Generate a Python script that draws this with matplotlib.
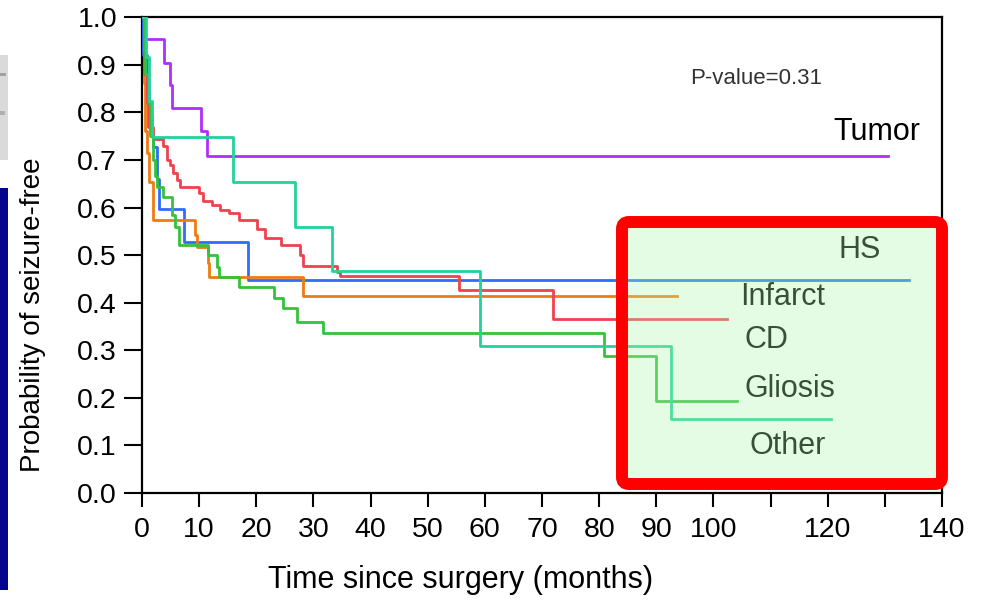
import matplotlib
matplotlib.use("Agg")
import matplotlib.pyplot as plt
from matplotlib.patches import Rectangle, FancyBboxPatch
from matplotlib.transforms import IdentityTransform

plt.rcParams['font.family'] = ['Liberation Sans', 'DejaVu Sans']

# ---------------- data ----------------
tumor_t = [0, 0.5, 3.9, 4.9, 5.3, 10.4, 11.4, 130.6]
tumor_s = [1.0, 0.954, 0.904, 0.858, 0.810, 0.760, 0.709, 0.709]

hs_t = [0, 0.2, 0.9, 1.2, 1.7, 1.9, 2.7, 3.0, 7.4, 18.6, 134.3]
hs_s = [1.0, 0.92, 0.84, 0.79, 0.75, 0.728, 0.66, 0.598, 0.527, 0.448, 0.448]

infarct_t = [0, 0.3, 0.6, 0.9, 1.2, 2.0, 9.2, 9.7, 11.5, 11.8, 28.2, 93.7]
infarct_s = [1.0, 0.862, 0.76, 0.715, 0.654, 0.574, 0.542, 0.518, 0.483, 0.455, 0.415, 0.415]

cd_t = [0, 0.4, 0.8, 1.1, 1.9, 3.7, 4.3, 4.9, 5.5, 6.1, 6.65, 9.9, 10.7, 12.2, 13.6,
        15.3, 16.9, 20.1, 21.5, 24.4, 27.7, 28.1, 34.1, 34.7, 55.5, 71.9, 102.3]
cd_s = [1.0, 0.88, 0.82, 0.77, 0.744, 0.729, 0.700, 0.690, 0.672, 0.658, 0.644, 0.631, 0.614,
        0.605, 0.595, 0.588, 0.574, 0.554, 0.537, 0.521, 0.500, 0.477, 0.465, 0.456, 0.427,
        0.366, 0.366]

gliosis_t = [0, 0.3, 0.6, 1.0, 1.4, 1.9, 2.3, 2.7, 3.7, 5.2, 5.8, 6.4, 11.6, 13.1, 13.5,
             16.9, 23.1, 24.7, 27.1, 31.7, 80.9, 90.0, 104.2]
gliosis_s = [1.0, 0.93, 0.88, 0.82, 0.75, 0.70, 0.667, 0.644, 0.623, 0.584, 0.560, 0.521,
             0.500, 0.476, 0.455, 0.432, 0.409, 0.388, 0.360, 0.337, 0.288, 0.193, 0.193]

other_t = [0, 0.75, 1.3, 1.75, 16.0, 26.7, 33.3, 59.2, 92.6, 120.6]
other_s = [1.0, 0.917, 0.825, 0.748, 0.653, 0.559, 0.467, 0.310, 0.155, 0.155]

groups = ["Tumor", "HS", "Infarct", "CD", "Gliosis", "Other"]
group_colors = ["#b12dff", "#2f6cff", "#f07a12", "#f0414f", "#34c23a", "#22d29a"]
label_pos = [(121.0, 0.742), (121.9, 0.493), (104.7, 0.395),
             (105.5, 0.304), (105.5, 0.201), (106.3, 0.082)]

x_ticks = list(range(0, 150, 10))
x_ticklabels = ["0", "10", "20", "30", "40", "50", "60", "70", "80", "90", "100",
                "", "120", "", "140"]
y_ticks = [0.0, 0.1, 0.2, 0.3, 0.4, 0.5, 0.6, 0.7, 0.8, 0.9, 1.0]
y_ticklabels = ["0.0", "0.1", "0.2", "0.3", "0.4", "0.5", "0.6", "0.7", "0.8", "0.9", "1.0"]

# ---------------- figure ----------------
W, H = 988, 601
fig = plt.figure(figsize=(W / 100, H / 100), dpi=100)
fig.patch.set_facecolor("white")

ax = fig.add_axes([142 / W, (H - 493) / H, 800 / W, 475.7 / H])

series = [(tumor_t, tumor_s), (hs_t, hs_s), (infarct_t, infarct_s),
          (cd_t, cd_s), (gliosis_t, gliosis_s), (other_t, other_s)]
for (t, s), c in zip(series, group_colors):
    ax.step(t, s, where="post", color=c, lw=2.0, zorder=3)

for name, (lx, ly) in zip(groups, label_pos):
    ax.text(lx, ly, name, fontsize=22, color="black", ha="left", va="baseline", zorder=4)

ax.text(96.0, 0.860, "P-value=0.31", fontsize=16, color="#333333", ha="left", va="baseline")

ax.set_xlim(0, 140)
ax.set_ylim(0, 1)
ax.set_xticks(x_ticks)
ax.set_xticklabels(x_ticklabels)
ax.set_yticks(y_ticks)
ax.set_yticklabels(y_ticklabels)
ax.tick_params(axis="x", direction="out", length=10, width=1.5, labelsize=20.5, pad=7)
ax.tick_params(axis="y", direction="out", length=13, width=1.5, labelsize=20.5, pad=5)
for sp in ax.spines.values():
    sp.set_linewidth(1.6)
    sp.set_color("black")

fig.text(461 / W, 1 - 580 / H, "Time since surgery (months)", fontsize=22,
         ha="center", va="center")
fig.text(33 / W, 1 - 315 / H, "Probability of seizure-free", fontsize=20,
         rotation=90, ha="center", va="center")

# highlight box (semi-transparent green overlay with red rounded border)
ident = IdentityTransform()
box = FancyBboxPatch((622, H - 484), 320, 262,
                     boxstyle="round,pad=0,rounding_size=7",
                     facecolor=(0.68, 0.96, 0.68, 0.33), edgecolor="#ff0000",
                     linewidth=8.6, transform=ident, zorder=20)
fig.patches.append(box)

# slide remnants on the left edge
fig.patches.append(Rectangle((0, H - 590), 8, 402, facecolor="#06068c",
                             edgecolor="none", transform=ident, zorder=20))
fig.patches.append(Rectangle((0, H - 160), 8, 105, facecolor="#dadada",
                             edgecolor="none", transform=ident, zorder=20))
fig.patches.append(Rectangle((0, H - 76), 6, 3, facecolor="#a0a0a0",
                             edgecolor="none", transform=ident, zorder=21))
fig.patches.append(Rectangle((0, H - 115), 5, 4, facecolor="#b0b0b0",
                             edgecolor="none", transform=ident, zorder=21))

fig.savefig("out.png", dpi=100)
